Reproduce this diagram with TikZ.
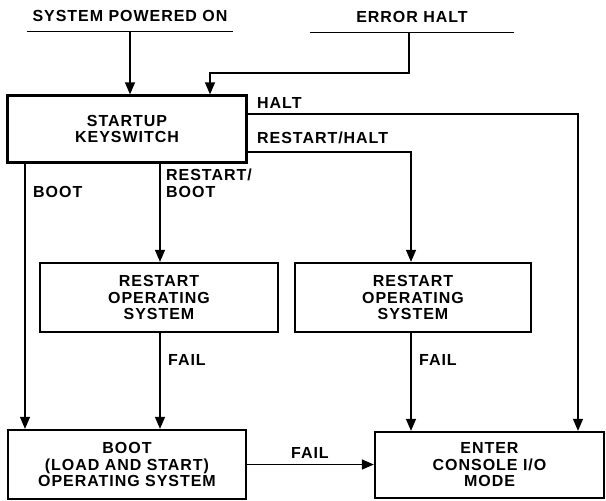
\documentclass[tikz,border=0pt]{standalone}
\usepackage{fontspec}
\setmainfont{Liberation Sans}[LetterSpace=6]
\usetikzlibrary{arrows.meta}
\newcommand{\dfont}{\fontsize{16}{16.5}\selectfont\bfseries}
\begin{document}
\begin{tikzpicture}[x=1pt,y=-1pt,
  font=\dfont,
  box/.style={draw,line width=2.3pt,align=center,inner sep=0pt},
  lbl/.style={inner sep=0pt,anchor=base west,align=left},
  ttl/.style={inner sep=0pt,anchor=south,text depth=9pt},
  uline/.style={line width=1pt},
  conn/.style={line width=1.3pt},
  arr/.style={conn,-{Triangle[length=12pt,width=10pt]}}]
\useasboundingbox (0,0) rectangle (606,501);
% top titles
\node[ttl,minimum width=206pt] (spo) at (130,31) {SYSTEM POWERED ON};
\node[ttl,minimum width=203pt] (err) at (412,32) {ERROR HALT};
\draw[uline] (spo.south west) -- (spo.south east);
\draw[uline] (err.south west) -- (err.south east);
% boxes
\node[box,minimum width=239pt,minimum height=67pt] (start) at (127,129) {STARTUP\\KEYSWITCH};
\node[box,minimum width=238pt,minimum height=69pt] (r1) at (159,297.5) {RESTART\\OPERATING\\SYSTEM};
\node[box,minimum width=236pt,minimum height=69pt] (r2) at (413,297.5) {RESTART\\OPERATING\\SYSTEM};
\node[box,minimum width=238pt,minimum height=69pt] (boot) at (127,464.5) {BOOT\\(LOAD AND START)\\OPERATING SYSTEM};
\node[box,minimum width=229pt,minimum height=66pt] (cons) at (489.5,465) {ENTER\\CONSOLE I/O\\MODE};
% connectors
\draw[arr] (spo.south) -- (spo.south |- start.north);
\draw[arr] ([xshift=-3pt]err.south) -- ++(0,41) -| ([xshift=83pt]start.north);
\draw[arr] ([yshift=15pt]start.east) -| ([xshift=88.5pt]cons.north);
\draw[arr] ([yshift=-23pt]start.east) -| ([xshift=-2pt]r2.north);
\draw[arr] ([xshift=-102pt]start.south) -- ([xshift=-102pt]boot.north);
\draw[arr] ([xshift=33pt]start.south) -- ([xshift=1pt]r1.north);
\draw[arr] ([xshift=1pt]r1.south) -- ([xshift=33pt]boot.north);
\draw[arr] ([xshift=-2pt]r2.south) -- ([xshift=-2pt]r2.south |- cons.north);
\draw[arr] (boot.east) -- (cons.west |- boot.east);
% labels
\node[lbl] (lhalt) at (257,108) {HALT};
\node[lbl] (lrh) at (257,143) {RESTART/HALT};
\node[lbl] (lboot) at (33,197) {BOOT};
\node[lbl] (lrb) at (166,197) {RESTART/\\BOOT};
\node[lbl] (lf1) at (168,365) {FAIL};
\node[lbl] (lf2) at (419,365) {FAIL};
\node[lbl] (lf3) at (291,458) {FAIL};
\end{tikzpicture}
\end{document}
